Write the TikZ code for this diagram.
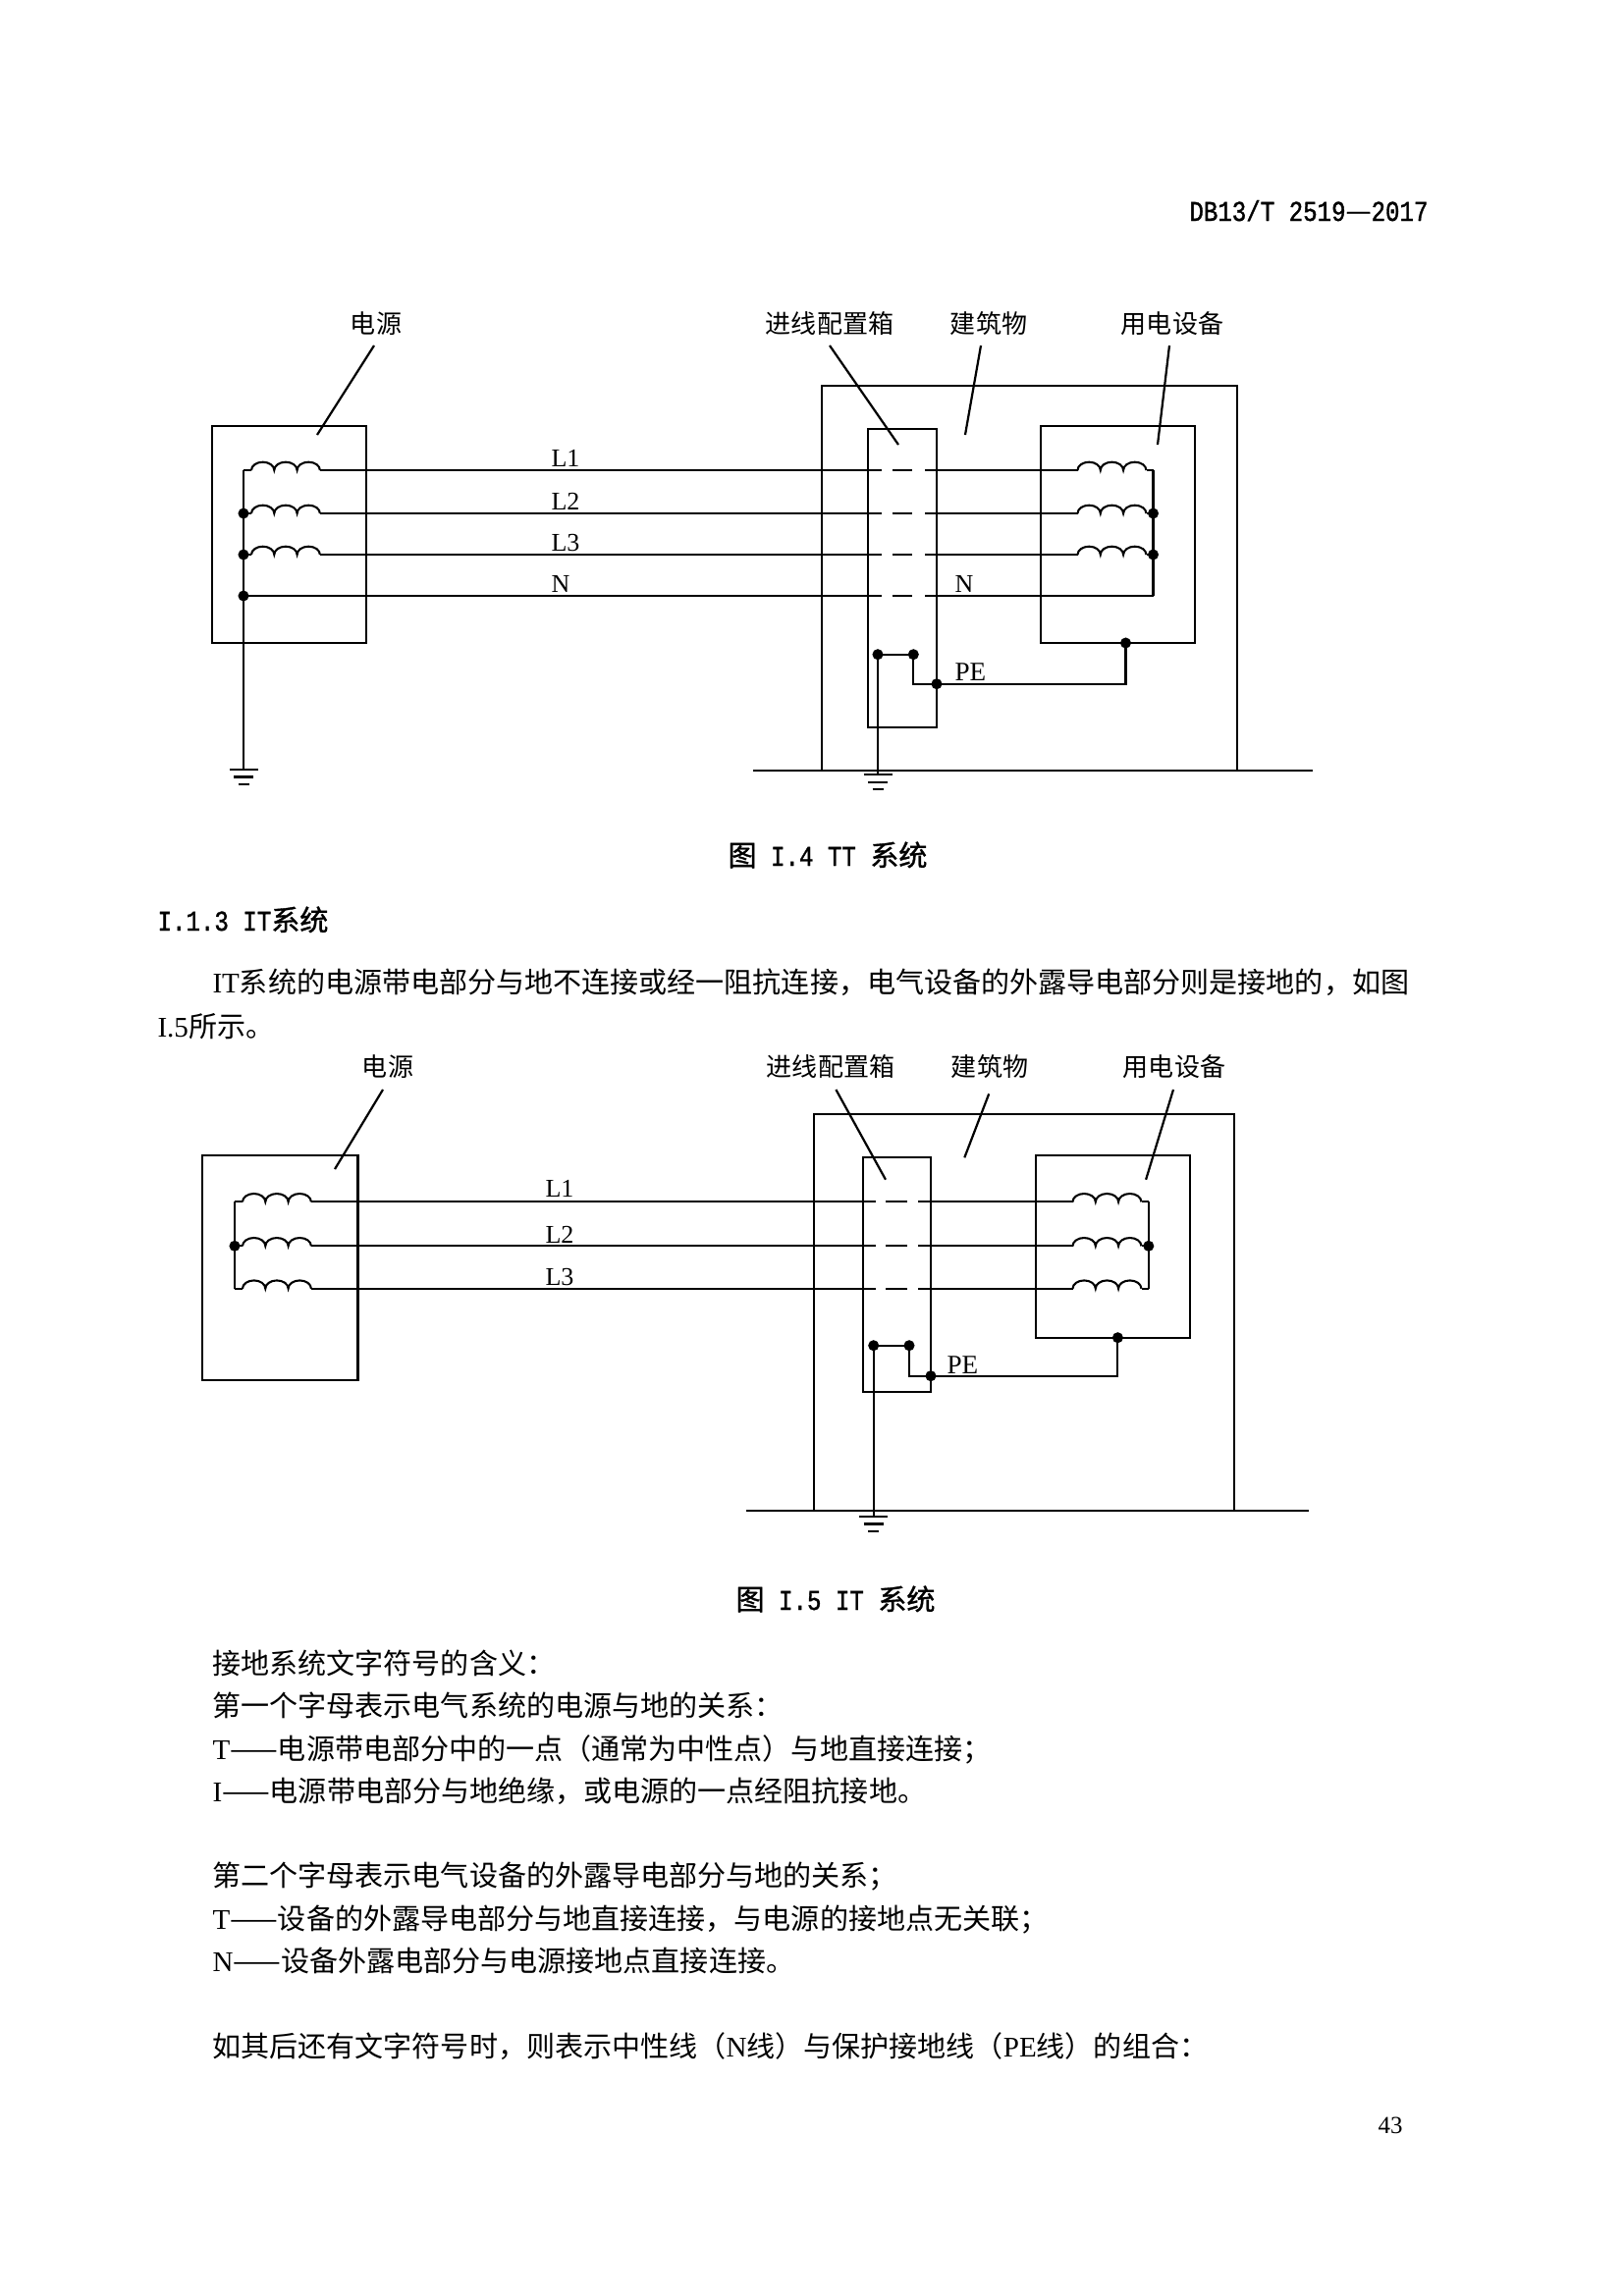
\documentclass[tikz,border=0pt]{standalone}
\usepackage{fontspec}
\setmainfont{Noto Sans CJK SC}
\newfontfamily\cjk{Noto Sans CJK SC}
\newfontfamily\cjkh[FakeBold=1.2]{Noto Sans CJK SC}
\newfontfamily\lser{Liberation Serif}
\newfontfamily\hmono[FakeStretch=0.83,FakeBold=1.2]{Liberation Mono}
\newcommand\fsz[1]{\fontsize{#1}{#1}\selectfont}
\newcommand\coilfrom[1]{\draw[wire] (#1) arc[start angle=180,end angle=0,x radius=4.21pt,y radius=3pt] arc[start angle=180,end angle=0,x radius=4.21pt,y radius=3pt] arc[start angle=180,end angle=0,x radius=4.21pt,y radius=3pt];}
\newcommand\gndsym[1]{\begin{scope}[shift={(#1)}]\draw[wire] (-14.5,0) -- (14.5,0) (-10,7.5) -- (10,7.5) (-5.5,15) -- (5.5,15);\end{scope}}
\begin{document}
\begin{tikzpicture}[x=0.3614pt,y=-0.3614pt,
  wire/.style={line width=0.75pt},
  lead/.style={line width=0.8pt},
  jdot/.style={circle,fill=black,inner sep=0pt,minimum size=4pt},
  lbl/.style={font=\cjk\fsz{9.4},inner sep=0pt,anchor=base},
  llab/.style={font=\lser\fsz{9.4},inner sep=0pt,anchor=base west},
  body/.style={font=\cjk\fsz{10.5},inner sep=0pt,anchor=base west},
  mono/.style={font=\hmono\fsz{10.5},inner sep=0pt}]
\useasboundingbox (0,0) rectangle (1654,2339);
\fill[white] (0,0) rectangle (1654,2339);

% header
\node[mono,anchor=base east] (hdr) at (1455,225) {DB13/T 2519{\cjkh —}2017};

% ================= TT diagram =================
\node[lbl] (tsrcL) at (383,339) {电源};
\node[lbl] (tinL) at (845,339) {进线配置箱};
\node[lbl] (tbldL) at (1007,339) {建筑物};
\node[lbl] (teqL) at (1194,339) {用电设备};
\coordinate (tl1a) at (381,352); \coordinate (tl1b) at (323,443);
\coordinate (tl2a) at (845,352); \coordinate (tl2b) at (915,453);
\coordinate (tl3a) at (999,352); \coordinate (tl3b) at (983,443);
\coordinate (tl4a) at (1191,352); \coordinate (tl4b) at (1179,453);
\draw[lead] (tl1a) -- (tl1b); \draw[lead] (tl2a) -- (tl2b);
\draw[lead] (tl3a) -- (tl3b); \draw[lead] (tl4a) -- (tl4b);

% boxes
\draw[wire] (216,434) rectangle (373,655);
\draw[wire] (884.4,437) rectangle (954,741);
\draw[wire] (1060.4,434) rectangle (1217.3,655);
\draw[wire] (837,785.3) -- (837,393.3) -- (1260,393.3) -- (1260,785.3);
\coordinate (tgl) at (767,785.3); \coordinate (tgr) at (1337,785.3);
\draw[wire] (tgl) -- (tgr);

% phase lines
\foreach \i/\y in {1/479,2/523,3/565}{
  \coordinate (ts\i) at (256,\y);
  \coordinate (tsr\i) at (326,\y);
  \coordinate (tea\i) at (898,\y);
  \coordinate (teb\i) at (908.5,\y);
  \coordinate (tec\i) at (928.5,\y);
  \coordinate (ted\i) at (942,\y);
  \coordinate (tq\i) at (1097.5,\y);
  \coordinate (tqr\i) at (1167.5,\y);
  \coordinate (tbs\i) at (248,\y);
  \coordinate (tbe\i) at (1174.5,\y);
  \coilfrom{ts\i}
  \coilfrom{tq\i}
  \draw[wire] (tbs\i) -- (ts\i);
  \draw[wire] (tsr\i) -- (tea\i);
  \draw[wire] (teb\i) -- (tec\i);
  \draw[wire] (ted\i) -- (tq\i);
  \draw[wire] (tqr\i) -- (tbe\i);
}
% neutral
\coordinate (tn0) at (248,607); \coordinate (tna) at (898,607);
\coordinate (tnb) at (908.5,607); \coordinate (tnc) at (928.5,607);
\coordinate (tnd) at (942,607); \coordinate (tne) at (1174.5,607);
\draw[wire] (tn0) -- (tna); \draw[wire] (tnb) -- (tnc); \draw[wire] (tnd) -- (tne);
% buses
\coordinate (tsg) at (248,784);
\draw[wire] (tbs1) -- (tsg);
\gndsym{tsg}
\draw[wire] (tbe1) -- (tne);
% PE
\coordinate (tp1) at (894,666.7); \coordinate (tp2) at (930.3,666.7);
\coordinate (tp3) at (930.3,696.7); \coordinate (tp4) at (954,696.7);
\coordinate (tp5) at (1146.5,696.7); \coordinate (tp6) at (1146.5,655);
\coordinate (tpg) at (894,789.3);
\draw[wire] (tp1) -- (tp2) -- (tp3) -- (tp4) -- (tp5) -- (tp6);
\draw[wire] (tp1) -- (tpg);
\gndsym{tpg}
% dots
\foreach \c in {tbs2,tbs3,tn0,tbe2,tbe3,tp1,tp2,tp4,tp6}{\node[jdot] at (\c) {};}
% line labels
\node[llab] (tL1) at (561,475) {L1};
\node[llab] (tL2) at (561,519) {L2};
\node[llab] (tL3) at (561,561) {L3};
\node[llab] (tN1) at (561,603) {N};
\node[llab] (tN2) at (972,603) {N};
\node[llab,font=\lser\fsz{9.8}] (tPE) at (972,693) {PE};

\node[mono,anchor=base] (cap1) at (843,882) {{\cjkh 图} I.4 TT {\cjkh 系统}};
\node[mono,anchor=base west] (sec) at (160,948) {I.1.3 IT{\cjkh 系统}};
\node[body] (p1) at (216,1011) {{\lser IT}系统的电源带电部分与地不连接或经一阻抗连接，电气设备的外露导电部分则是接地的，如图};
\node[body] (p2) at (160,1056) {{\lser I.5}所示。};

% ================= IT diagram =================
\node[lbl] (isrcL) at (395,1096) {电源};
\node[lbl] (iinL) at (846,1096) {进线配置箱};
\node[lbl] (ibldL) at (1008,1096) {建筑物};
\node[lbl] (ieqL) at (1196,1096) {用电设备};
\coordinate (il1a) at (390,1110); \coordinate (il1b) at (341,1191);
\coordinate (il2a) at (851.4,1110); \coordinate (il2b) at (902,1201.7);
\coordinate (il3a) at (1007.2,1114.3); \coordinate (il3b) at (982.3,1179.3);
\coordinate (il4a) at (1195,1110); \coordinate (il4b) at (1167.1,1201.7);
\draw[lead] (il1a) -- (il1b); \draw[lead] (il2a) -- (il2b);
\draw[lead] (il3a) -- (il3b); \draw[lead] (il4a) -- (il4b);

\draw[wire] (206,1177.3) rectangle (364.5,1406);
\draw[wire] (879,1179.3) rectangle (948,1418.3);
\draw[wire] (1055.4,1177.3) rectangle (1212.3,1362.7);
\draw[wire] (829,1539.3) -- (829,1135) -- (1257,1135) -- (1257,1539.3);
\coordinate (igl) at (760,1539.3); \coordinate (igr) at (1333,1539.3);
\draw[wire] (igl) -- (igr);

\foreach \i/\y in {1/1224.3,2/1269.3,3/1312.7}{
  \coordinate (is\i) at (247,\y);
  \coordinate (isr\i) at (317,\y);
  \coordinate (iea\i) at (892.4,\y);
  \coordinate (ieb\i) at (902.3,\y);
  \coordinate (iec\i) at (924.1,\y);
  \coordinate (ied\i) at (934.8,\y);
  \coordinate (iq\i) at (1092.5,\y);
  \coordinate (iqr\i) at (1162.5,\y);
  \coordinate (ibs\i) at (239,\y);
  \coordinate (ibe\i) at (1169.8,\y);
  \coilfrom{is\i}
  \coilfrom{iq\i}
  \draw[wire] (ibs\i) -- (is\i);
  \draw[wire] (isr\i) -- (iea\i);
  \draw[wire] (ieb\i) -- (iec\i);
  \draw[wire] (ied\i) -- (iq\i);
  \draw[wire] (iqr\i) -- (ibe\i);
}
\draw[wire] (ibs1) -- (ibs3);
\draw[wire] (ibe1) -- (ibe3);
\coordinate (ip1) at (889.7,1370.7); \coordinate (ip2) at (926,1370.7);
\coordinate (ip3) at (926,1401.7); \coordinate (ip4) at (948,1401.7);
\coordinate (ip5) at (1138.4,1401.7); \coordinate (ip6) at (1138.4,1362.7);
\coordinate (ipg) at (889.7,1545);
\draw[wire] (ip1) -- (ip2) -- (ip3) -- (ip4) -- (ip5) -- (ip6);
\draw[wire] (ip1) -- (ipg);
\gndsym{ipg}
\foreach \c in {ibs2,ibe2,ip1,ip2,ip4,ip6}{\node[jdot] at (\c) {};}
\node[llab] (iL1) at (555,1219) {L1};
\node[llab] (iL2) at (555,1266) {L2};
\node[llab] (iL3) at (555,1309) {L3};
\node[llab,font=\lser\fsz{9.8}] (iPE) at (964,1399) {PE};

\node[mono,anchor=base] (cap2) at (851,1640) {{\cjkh 图} I.5 IT {\cjkh 系统}};

% ================= text =================
\node[body] (b1) at (216,1705) {接地系统文字符号的含义：};
\node[body] (b2) at (216,1748.5) {第一个字母表示电气系统的电源与地的关系：};
\node[body] (b3) at (216,1792) {{\lser T}——电源带电部分中的一点（通常为中性点）与地直接连接；};
\node[body] (b4) at (216,1835.5) {{\lser I}——电源带电部分与地绝缘，或电源的一点经阻抗接地。};
\node[body] (b5) at (216,1921.5) {第二个字母表示电气设备的外露导电部分与地的关系；};
\node[body] (b6) at (216,1965) {{\lser T}——设备的外露导电部分与地直接连接，与电源的接地点无关联；};
\node[body] (b7) at (216,2008.5) {{\lser N}——设备外露电部分与电源接地点直接连接。};
\node[body] (b8) at (216,2095.5) {如其后还有文字符号时，则表示中性线（{\lser N}线）与保护接地线（{\lser PE}线）的组合：};
\node[font=\lser\fsz{9},inner sep=0pt,anchor=base east] (pg) at (1429,2173) {43};
\end{tikzpicture}
\end{document}
